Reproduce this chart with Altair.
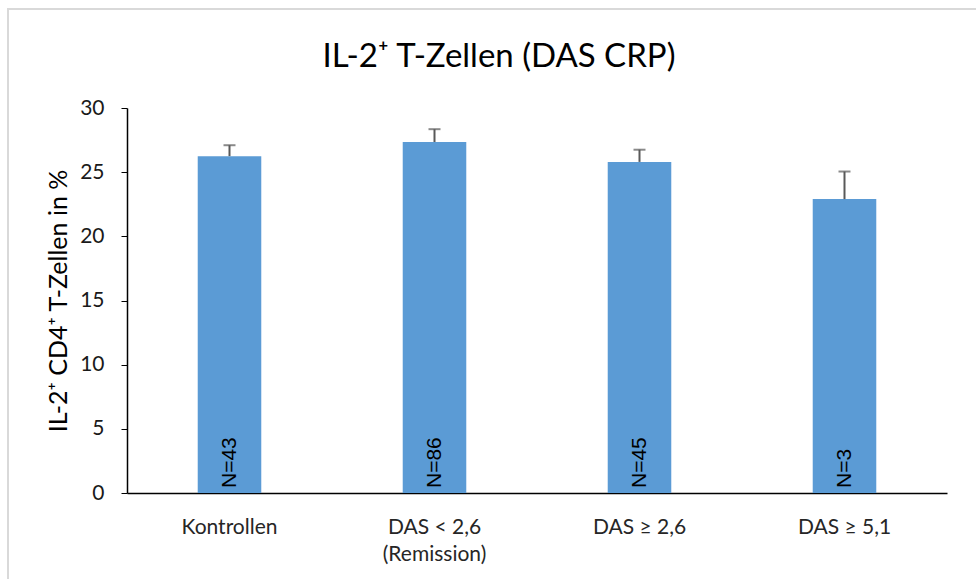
import altair as alt
import pandas as pd

categories = ["Kontrollen", "DAS < 2,6", "DAS ≥ 2,6", "DAS ≥ 5,1"]
means = [26.25, 27.35, 25.8, 22.9]
errors = [0.85, 1.0, 0.95, 2.15]
n_labels = ["N=43", "N=86", "N=45", "N=3"]

df = pd.DataFrame({
    "cat": categories,
    "mean": means,
    "err_top": [m + e for m, e in zip(means, errors)],
    "n": n_labels,
})

x_enc = alt.X(
    "cat:N",
    sort=categories,
    title=None,
    scale=alt.Scale(paddingInner=0.69, paddingOuter=0.345),
    axis=alt.Axis(
        labelExpr="datum.value == 'DAS < 2,6' ? ['DAS < 2,6', '(Remission)'] : datum.value",
        labelAngle=0,
        labelFont="Lato",
        labelFontSize=21,
        labelColor="#262626",
        labelPadding=23,
        labelLineHeight=27,
        ticks=False,
        domainColor="#000000",
        domainWidth=1.5,
    ),
)

y_scale = alt.Scale(domain=[0, 30])

bars = alt.Chart(df).mark_bar(color="#5B9BD5").encode(
    x=x_enc,
    y=alt.Y(
        "mean:Q",
        scale=y_scale,
        title="IL-2⁺ CD4⁺ T-Zellen in %",
        axis=alt.Axis(
            values=[0, 5, 10, 15, 20, 25, 30],
            grid=False,
            tickSize=6,
            tickColor="#000000",
            domainColor="#000000",
            domainWidth=1.5,
            labelFont="Lato",
            labelFontSize=21,
            labelColor="#1a1a1a",
            labelPadding=17,
            titleFont="Lato",
            titleFontSize=25,
            titleFontWeight="normal",
            titleColor="#000000",
            titlePadding=8,
        ),
    ),
)

err = alt.Chart(df).mark_rule(color="#595959", strokeWidth=2).encode(
    x=alt.X("cat:N", sort=categories),
    y=alt.Y("mean:Q", scale=y_scale),
    y2="err_top:Q",
)

caps = alt.Chart(df).mark_tick(color="#595959", thickness=2, size=12, orient="horizontal").encode(
    x=alt.X("cat:N", sort=categories),
    y=alt.Y("err_top:Q", scale=y_scale),
)

ntext = alt.Chart(df).mark_text(
    angle=270, align="left", baseline="middle", dx=5,
    font="Liberation Sans", fontSize=21, color="#000000",
).encode(
    x=alt.X("cat:N", sort=categories),
    y=alt.value(385),
    text="n:N",
)

border = alt.Chart(df).mark_rect(
    fill=None, stroke="#D9D9D9", strokeWidth=2
).encode(
    x=alt.value(-119), x2=alt.value(1000), y=alt.value(-99), y2=alt.value(520)
)

chart = alt.layer(border, bars, err, caps, ntext).properties(
    width=820,
    height=385,
    background="white",
    title=alt.TitleParams(
        "IL-2⁺ T-Zellen (DAS CRP)",
        font="Lato",
        fontSize=33,
        fontWeight="normal",
        color="#000000",
        anchor="middle",
        frame="group",
        offset=-66,
        dx=-38,
    ),
    padding={"left": 127, "top": 108, "right": 29, "bottom": 86},
    autosize=alt.AutoSizeParams(type="none"),
).configure_view(strokeWidth=0)

chart.save("out.html", embed_options={"renderer": "svg", "actions": False})
